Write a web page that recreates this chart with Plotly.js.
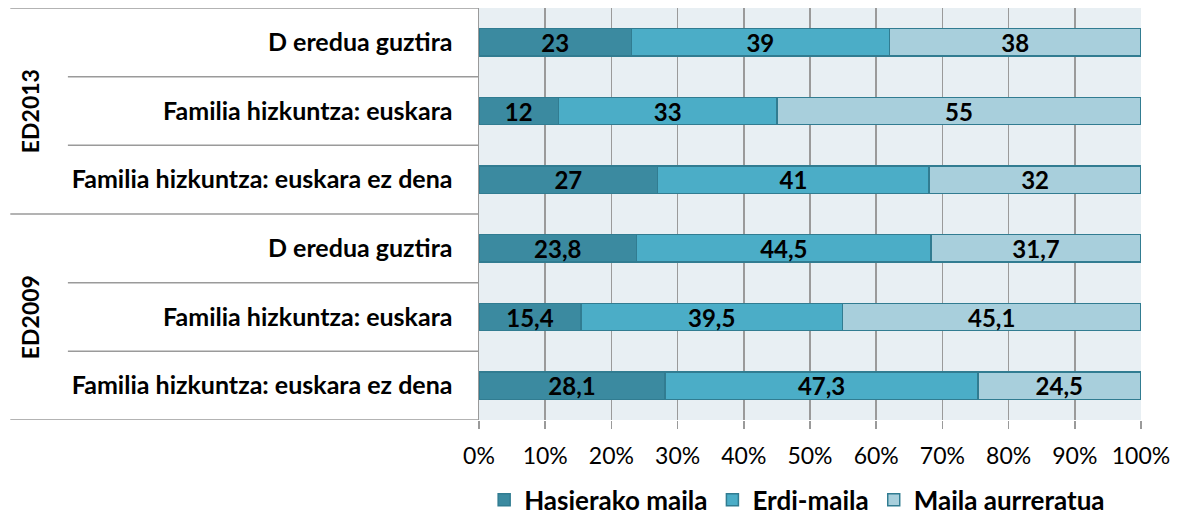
<!DOCTYPE html>
<html>
<head>
<meta charset="utf-8">
<script src="https://cdn.plot.ly/plotly-3.0.1.min.js"></script>
<style>html,body{margin:0;padding:0;background:#fff;}#chart{width:1178px;height:519px;}</style>
</head>
<body>
<div id="chart"></div>
<script>
// Data
var groups = ["ED2013", "ED2009"];
var categories = [
  "D eredua guztira",
  "Familia hizkuntza: euskara",
  "Familia hizkuntza: euskara ez dena",
  "D eredua guztira",
  "Familia hizkuntza: euskara",
  "Familia hizkuntza: euskara ez dena"
];
var seriesNames = ["Hasierako maila", "Erdi-maila", "Maila aurreratua"];
var hasierako = [23, 12, 27, 23.8, 15.4, 28.1];
var erdi = [39, 33, 41, 44.5, 39.5, 47.3];
var aurreratua = [38, 55, 32, 31.7, 45.1, 24.5];
var xTicks = [0, 10, 20, 30, 40, 50, 60, 70, 80, 90, 100];

var colors = ["#3b8aa0", "#4badc7", "#a8cfdc"];
var FONT = "Lato, 'Liberation Sans', sans-serif";

var pos = categories.map(function (c, i) { return i; });
function fmt(v) { return String(v).replace('.', ','); }

var seriesVals = [hasierako, erdi, aurreratua];
var traces = seriesVals.map(function (vals, k) {
  return {
    type: 'bar',
    orientation: 'h',
    name: '<b>' + seriesNames[k] + '</b>',
    x: vals,
    y: pos,
    width: 0.4,
    text: vals.map(function (v) { return '<b>' + fmt(v) + '</b>'; }),
    textposition: 'inside',
    insidetextanchor: 'middle',
    textangle: 0,
    constraintext: 'none',
    textfont: {family: FONT, size: 24, color: '#000'},
    marker: {color: colors[k], line: {color: '#317c91', width: 1.5}},
    hoverinfo: 'x+name'
  };
});

// Separator lines in the label area
var shapes = [];
var nCat = categories.length;
for (var b = 0; b <= nCat; b++) {
  var yb = b - 0.5;
  var isGroup = (b % 3 === 0);
  shapes.push({
    type: 'line', xref: 'paper', yref: 'y',
    x0: isGroup ? -0.708 : -0.621, x1: 0,
    y0: yb, y1: yb,
    line: {color: '#9a9a9a', width: 1.5}
  });
}

var annotations = groups.map(function (g, gi) {
  return {
    text: '<b>' + g + '</b>',
    xref: 'paper', yref: 'y',
    x: -0.678, y: gi * 3 + 1,
    showarrow: false, textangle: -90,
    xanchor: 'center', yanchor: 'middle',
    font: {family: FONT, size: 23, color: '#000'}
  };
});

var layout = {
  width: 1178, height: 519,
  margin: {l: 479, r: 37, t: 8, b: 99, autoexpand: false},
  paper_bgcolor: '#ffffff',
  plot_bgcolor: '#e8eff3',
  barmode: 'stack',
  showlegend: true,
  legend: {
    orientation: 'h', xref: 'container', yref: 'container',
    x: 0.411, xanchor: 'left', y: 0.037, yanchor: 'middle',
    font: {family: FONT, size: 26, color: '#000'},
    traceorder: 'normal', itemwidth: 30
  },
  xaxis: {
    range: [0, 100], tickvals: xTicks, ticktext: xTicks.map(function (v) { return v + '%'; }),
    showgrid: true, gridcolor: '#9a9a9a', gridwidth: 1.5,
    zeroline: false, showline: false,
    ticks: 'outside', ticklen: 8, tickwidth: 1.5, tickcolor: '#9a9a9a',
    ticklabelstandoff: 7,
    tickfont: {family: FONT, size: 23, color: '#000'},
    fixedrange: true
  },
  yaxis: {
    range: [5.5, -0.5], tickvals: pos, ticktext: categories.map(function (c) { return '<b>' + c + '</b>'; }),
    showgrid: false, zeroline: false,
    showline: true, linecolor: '#9a9a9a', linewidth: 1.5,
    ticks: '', ticklabelstandoff: 20,
    tickfont: {family: FONT, size: 25, color: '#000'},
    fixedrange: true
  },
  shapes: shapes,
  annotations: annotations
};

Plotly.newPlot('chart', traces, layout, {displayModeBar: false, staticPlot: true});
</script>
</body>
</html>
